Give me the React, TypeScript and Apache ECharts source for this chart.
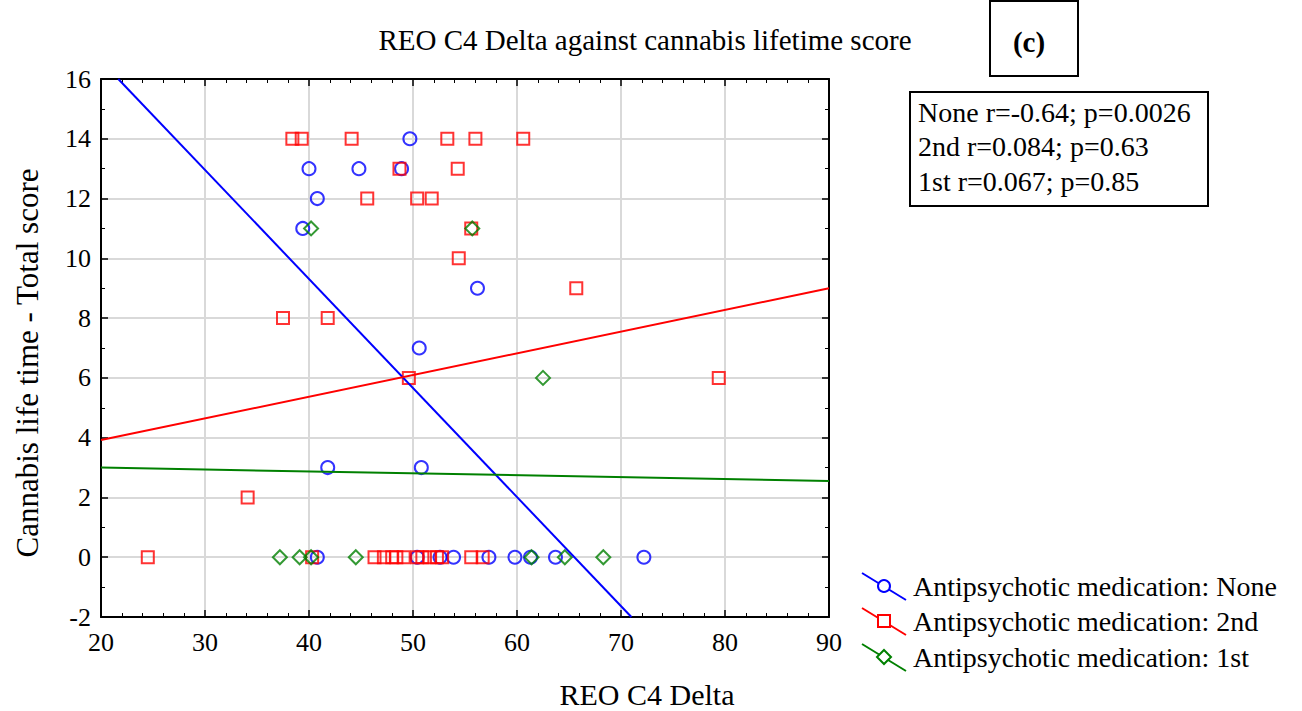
import React, { useEffect, useRef } from "react";
import * as echarts from "echarts";

// Scatter groups: REO C4 Delta (x) vs cannabis lifetime total score (y)
const noneX = [49.7, 40.0, 44.8, 48.9, 40.8, 39.4, 56.2, 50.6, 41.8, 50.8, 40.8, 50.4, 52.6, 53.9, 57.3, 59.8, 61.3, 63.7, 72.2];
const noneY = [14, 13, 13, 13, 12, 11, 9, 7, 3, 3, 0, 0, 0, 0, 0, 0, 0, 0, 0];

const secondX = [38.4, 39.3, 44.1, 53.3, 56.0, 60.6, 48.7, 54.3, 45.6, 50.4, 51.8, 55.6, 54.4, 65.7, 37.5, 41.8, 49.6, 79.4, 34.1,
  24.5, 40.3, 46.3, 47.2, 48.0, 48.4, 49.1, 50.4, 50.9, 51.6, 52.3, 52.8, 55.6, 56.7];
const secondY = [14, 14, 14, 14, 14, 14, 13, 13, 12, 12, 12, 11, 10, 9, 8, 8, 6, 6, 2,
  0, 0, 0, 0, 0, 0, 0, 0, 0, 0, 0, 0, 0, 0];

const firstX = [40.2, 55.7, 62.5, 37.2, 39.1, 40.2, 44.5, 61.4, 64.6, 68.3];
const firstY = [11, 11, 6, 0, 0, 0, 0, 0, 0, 0];

// Fitted regression lines, as end points
const noneFitX = [21.66, 71.0];
const noneFitY = [16, -2];
const secondFitX = [20, 90];
const secondFitY = [3.92, 9.0];
const firstFitX = [20, 90];
const firstFitY = [3.0, 2.55];

const xTicks = { min: 20, max: 90, interval: 10 };
const yTicks = { min: -2, max: 16, interval: 2 };

const groupNames = [
  "Antipsychotic medication: None",
  "Antipsychotic medication: 2nd",
  "Antipsychotic medication: 1st",
];
const statLines = [
  "None r=-0.64; p=0.0026",
  "2nd r=0.084; p=0.63",
  "1st r=0.067; p=0.85",
];
const titleText = "REO C4 Delta against cannabis lifetime score";
const panelTag = "(c)";
const xName = "REO C4 Delta";
const yName = "Cannabis life time - Total score";

const BLUE = "#0000ff";
const RED = "#ff0000";
const GREEN = "#008000";
const FAMILY = "Liberation Serif";
const FONT = "'Liberation Serif', 'Times New Roman', serif";

const pairs = (xs: number[], ys: number[]) => xs.map((x, i) => [x, ys[i]]);

function axisCommon(showLabel: boolean, minorSplit: number, margin: number) {
  return {
    axisLine: { show: true, onZero: false, lineStyle: { color: "#000", width: 2 } },
    axisTick: { show: true, inside: true, length: 7, lineStyle: { color: "#000", width: 1.5 } },
    minorTick: { show: true, splitNumber: minorSplit, length: 4, lineStyle: { color: "#000", width: 1 } },
    axisLabel: {
      show: showLabel,
      color: "#000",
      fontFamily: FAMILY,
      fontSize: 26,
      margin,
    },
  };
}

const centeredText = (text: string, x: number, y: number, font: string, extra: any = {}) => ({
  type: "text",
  x,
  y,
  ...extra,
  style: {
    text,
    font,
    fill: "#000",
    align: "center",
    verticalAlign: "middle",
    textAlign: "center",
    textVerticalAlign: "middle",
  },
});

const leftText = (text: string, x: number, y: number, font: string) => ({
  type: "text",
  x,
  y,
  style: {
    text,
    font,
    fill: "#000",
    align: "left",
    verticalAlign: "middle",
    textAlign: "left",
    textVerticalAlign: "middle",
  },
});

export default function App() {
  const ref = useRef<HTMLDivElement>(null);

  useEffect(() => {
    if (!ref.current) return;
    const chart = echarts.init(ref.current, null, { renderer: "svg" });

    // Legend: slanted line with the group's marker in its middle
    const legendRows = [586, 621, 657];
    const legendColors = [BLUE, RED, GREEN];
    const legendGraphics: any[] = [];
    legendRows.forEach((yc, i) => {
      const c = legendColors[i];
      legendGraphics.push({
        type: "line",
        shape: { x1: 862, y1: yc - 13, x2: 906, y2: yc + 14 },
        style: { stroke: c, lineWidth: 2 },
      });
      if (i === 0) {
        legendGraphics.push({
          type: "circle",
          shape: { cx: 884, cy: yc, r: 6 },
          style: { stroke: c, fill: "#fff", lineWidth: 2 },
        });
      } else if (i === 1) {
        legendGraphics.push({
          type: "rect",
          shape: { x: 878, y: yc - 6, width: 12, height: 12 },
          style: { stroke: c, fill: "#fff", lineWidth: 2 },
        });
      } else {
        legendGraphics.push({
          type: "polygon",
          shape: { points: [[884, yc - 7], [891, yc], [884, yc + 7], [877, yc]] },
          style: { stroke: c, fill: "#fff", lineWidth: 2 },
        });
      }
      legendGraphics.push(leftText(groupNames[i], 913, yc, `28px ${FONT}`));
    });

    const statGraphics: any[] = [
      {
        type: "rect",
        shape: { x: 910, y: 92, width: 298, height: 114 },
        style: { stroke: "#000", fill: "#fff", lineWidth: 2 },
      },
      ...statLines.map((t, i) => leftText(t, 918, 112 + i * 34.5, `28px ${FONT}`)),
    ];

    chart.setOption({
      animation: false,
      backgroundColor: "#fff",
      textStyle: { fontFamily: FAMILY, color: "#000" },
      grid: { left: 101, top: 79, width: 728, height: 538, containLabel: false },
      xAxis: [
        {
          type: "value",
          position: "bottom",
          ...xTicks,
          ...axisCommon(true, 5, 12),
          splitLine: { show: true, lineStyle: { color: "#d9d9d9", width: 2 } },
        },
        {
          type: "value",
          position: "top",
          ...xTicks,
          ...axisCommon(false, 5, 8),
          splitLine: { show: false },
        },
      ],
      yAxis: [
        {
          type: "value",
          position: "left",
          ...yTicks,
          ...axisCommon(true, 2, 10),
          splitLine: { show: true, lineStyle: { color: "#d9d9d9", width: 2 } },
        },
        {
          type: "value",
          position: "right",
          ...yTicks,
          ...axisCommon(false, 2, 8),
          splitLine: { show: false },
        },
      ],
      series: [
        {
          type: "line",
          data: pairs(noneFitX, noneFitY),
          showSymbol: false,
          symbol: "none",
          lineStyle: { color: BLUE, width: 2 },
          clip: true,
          silent: true,
        },
        {
          type: "line",
          data: pairs(secondFitX, secondFitY),
          showSymbol: false,
          symbol: "none",
          lineStyle: { color: RED, width: 2 },
          clip: true,
          silent: true,
        },
        {
          type: "line",
          data: pairs(firstFitX, firstFitY),
          showSymbol: false,
          symbol: "none",
          lineStyle: { color: GREEN, width: 2 },
          clip: true,
          silent: true,
        },
        {
          name: groupNames[0],
          type: "scatter",
          data: pairs(noneX, noneY),
          symbol: "circle",
          symbolSize: 13,
          itemStyle: { color: "rgba(0,0,0,0)", borderColor: BLUE, borderWidth: 2 },
        },
        {
          name: groupNames[1],
          type: "scatter",
          data: pairs(secondX, secondY),
          symbol: "rect",
          symbolSize: 12,
          itemStyle: { color: "rgba(0,0,0,0)", borderColor: RED, borderWidth: 2 },
        },
        {
          name: groupNames[2],
          type: "scatter",
          data: pairs(firstX, firstY),
          symbol: "diamond",
          symbolSize: 14,
          itemStyle: { color: "rgba(0,0,0,0)", borderColor: GREEN, borderWidth: 2 },
        },
      ],
      graphic: [
        centeredText(titleText, 645, 40, `29px ${FONT}`),
        {
          type: "rect",
          shape: { x: 990, y: 1, width: 88, height: 75 },
          style: { stroke: "#000", fill: "#fff", lineWidth: 2 },
        },
        centeredText(panelTag, 1029, 42, `bold 29px ${FONT}`),
        centeredText(xName, 647, 694, `30px ${FONT}`),
        centeredText(yName, 27, 363, `31px ${FONT}`, { rotation: Math.PI / 2 }),
        ...statGraphics,
        ...legendGraphics,
      ],
    });

    return () => chart.dispose();
  }, []);

  return (
    <div
      ref={ref}
      style={{ position: "absolute", left: 0, top: 0, width: 1302, height: 711 }}
    />
  );
}
